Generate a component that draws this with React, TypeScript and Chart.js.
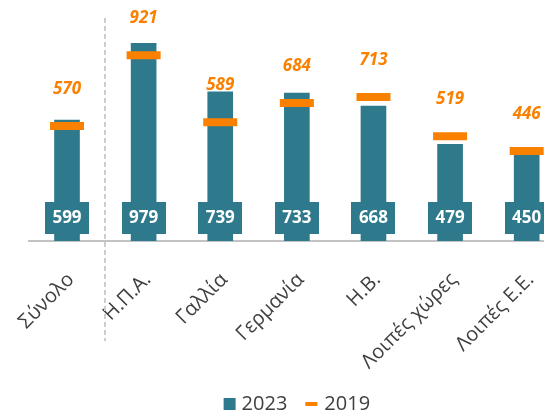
import React, { useEffect, useRef } from "react";
import { Chart, registerables } from "chart.js";

Chart.register(...registerables);

const categories = ["Σύνολο", "Η.Π.Α.", "Γαλλία", "Γερμανία", "Η.Β.", "Λοιπές χώρες", "Λοιπές Ε.Ε."];
const values2023 = [599, 979, 739, 733, 668, 479, 450];
const values2019 = [570, 921, 589, 684, 713, 519, 446];
const seriesNames = ["2023", "2019"];

const TEAL = "#2E7A8C";
const ORANGE = "#FA8000";
const TEXT = "#404040";
const FONT = "'Open Sans', 'Noto Sans', sans-serif";

const CANVAS_W = 566;
const CANVAS_H = 414;

const overlayPlugin = {
  id: "overlay",
  beforeDatasetsDraw(chart: any) {
    const { ctx, scales, chartArea } = chart;
    const xs = scales.x;
    const sx = (xs.getPixelForValue(0) + xs.getPixelForValue(1)) / 2;
    ctx.save();
    ctx.strokeStyle = "#cdcdcd";
    ctx.lineWidth = 2;
    ctx.setLineDash([5, 3]);
    ctx.beginPath();
    ctx.moveTo(Math.round(sx), chartArea.top - 1);
    ctx.lineTo(Math.round(sx), 341);
    ctx.stroke();
    ctx.restore();
  },
  afterDatasetsDraw(chart: any) {
    const { ctx, scales, chartArea } = chart;
    const xs = scales.x;
    const ys = scales.y;
    const y0 = ys.getPixelForValue(0);
    ctx.save();
    ctx.textAlign = "center";
    ctx.textBaseline = "middle";
    for (let i = 0; i < categories.length; i++) {
      const x = xs.getPixelForValue(i);
      // value box at bottom
      ctx.fillStyle = TEAL;
      ctx.fillRect(Math.round(x - 22), Math.round(y0 - 39), 44, 32);
      ctx.fillStyle = "#ffffff";
      ctx.font = `bold 17px ${FONT}`;
      ctx.fillText(String(values2023[i]), x, y0 - 23);
      // 2019 label
      const ym = ys.getPixelForValue(values2019[i]);
      ctx.fillStyle = ORANGE;
      ctx.font = `italic bold 17px ${FONT}`;
      ctx.fillText(String(values2019[i]), x, ym - 37);
    }
    // legend
    const cx = (chartArea.left + chartArea.right) / 2;
    const ly = 404;
    ctx.font = `20px ${FONT}`;
    const w1 = ctx.measureText(seriesNames[0]).width;
    const w2 = ctx.measureText(seriesNames[1]).width;
    const total = 12 + 6 + w1 + 18 + 12 + 7 + w2;
    let lx = cx - total / 2;
    ctx.fillStyle = TEAL;
    ctx.fillRect(lx, ly - 6, 12, 12);
    lx += 18;
    ctx.fillStyle = TEXT;
    ctx.textAlign = "left";
    ctx.fillText(seriesNames[0], lx, ly);
    lx += w1 + 18;
    ctx.fillStyle = ORANGE;
    ctx.fillRect(lx, ly - 2, 12, 4);
    lx += 19;
    ctx.fillStyle = TEXT;
    ctx.fillText(seriesNames[1], lx, ly);
    ctx.restore();
  },
};

export default function App() {
  const ref = useRef<HTMLCanvasElement | null>(null);
  useEffect(() => {
    if (!ref.current) return;
    const chart = new Chart(ref.current, {
      type: "bar",
      data: {
        labels: categories,
        datasets: [
          {
            type: "line",
            label: seriesNames[1],
            data: values2019,
            showLine: false,
            pointStyle: "line",
            pointRadius: 17,
            pointHoverRadius: 17,
            pointBorderWidth: 8,
            pointHoverBorderWidth: 8,
            borderColor: ORANGE,
            backgroundColor: ORANGE,
            order: 0,
          } as any,
          {
            type: "bar",
            label: seriesNames[0],
            data: values2023,
            backgroundColor: TEAL,
            barThickness: 25,
            order: 1,
          },
        ],
      },
      options: {
        responsive: false,
        animation: false,
        devicePixelRatio: 1,
        layout: { autoPadding: false, padding: { left: 28.7, right: 1, top: 19, bottom: 0 } },
        plugins: {
          legend: { display: false },
          tooltip: { enabled: false },
        },
        scales: {
          x: {
            grid: { display: false },
            border: { display: true, color: "#c3c3c3", width: 2 },
            ticks: {
              autoSkip: false,
              minRotation: 45,
              maxRotation: 45,
              padding: 19,
              labelOffset: 4,
              color: TEXT,
              font: { family: FONT, size: 20 },
            },
            afterFit: (scale: any) => {
              scale.height = 173;
              scale.paddingLeft = 0;
              scale.paddingRight = 0;
            },
          },
          y: {
            display: false,
            min: 0,
            max: 1100,
          },
        },
      },
      plugins: [overlayPlugin],
    });
    return () => chart.destroy();
  }, []);
  return (
    <div
      style={{
        position: "absolute",
        left: 0,
        top: 0,
        width: 544,
        height: 414,
        overflow: "hidden",
        background: "#ffffff",
      }}
    >
      <canvas ref={ref} width={CANVAS_W} height={CANVAS_H} style={{ display: "block" }} />
    </div>
  );
}
